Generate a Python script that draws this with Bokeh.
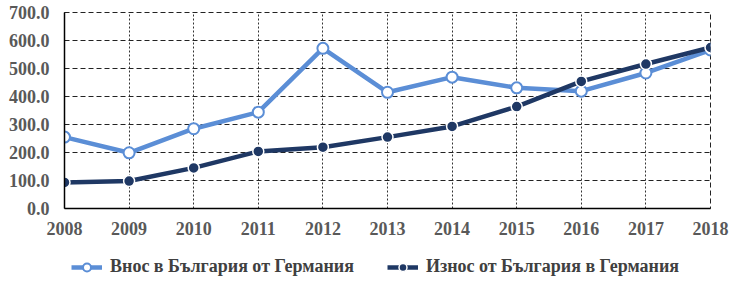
from bokeh.plotting import figure
from bokeh.models import Legend, LegendItem, FixedTicker, NumeralTickFormatter, Range1d
from bokeh.layouts import column
from bokeh.embed import file_html
from bokeh.resources import INLINE

years = [2008, 2009, 2010, 2011, 2012, 2013, 2014, 2015, 2016, 2017, 2018]
imports_from_de = [255, 199, 285, 344, 572, 415, 469, 431, 419, 484, 566]
exports_to_de = [93, 98, 145, 204, 219, 255, 293, 364, 454, 516, 575]
y_ticks = [0, 100, 200, 300, 400, 500, 600, 700]
label_import = "Внос в България от Германия"
label_export = "Износ от България в Германия"

LIGHT = "#5B8ED6"
DARK = "#1F3864"
FONT = "Liberation Serif"

p = figure(width=740, height=240, min_border_left=64, min_border_top=12,
           min_border_right=30, min_border_bottom=32,
           output_backend="svg", toolbar_location=None,
           x_range=Range1d(2008, 2018), y_range=Range1d(0, 700))
p.background_fill_color = "white"
p.border_fill_color = "white"

line_kw1 = dict(line_color=LIGHT, line_width=4.5)
mark_kw1 = dict(size=11, marker="circle", fill_color="white", line_color=LIGHT, line_width=2)
line_kw2 = dict(line_color=DARK, line_width=4.5)
mark_kw2 = dict(size=11, marker="circle", fill_color=DARK, line_color="white", line_width=1.5)

p.line(years, imports_from_de, **line_kw1)
p.scatter(years, imports_from_de, **mark_kw1)
p.line(years, exports_to_de, **line_kw2)
p.scatter(years, exports_to_de, **mark_kw2)

p.xaxis.ticker = FixedTicker(ticks=years)
p.yaxis.ticker = FixedTicker(ticks=y_ticks)
p.yaxis.formatter = NumeralTickFormatter(format="0.0")
for ax in (p.xaxis[0], p.yaxis[0]):
    ax.major_tick_out = 0
    ax.major_tick_in = 0
    ax.minor_tick_out = 0
    ax.minor_tick_in = 0
    ax.axis_line_color = "black"
    ax.axis_line_width = 1.5
    ax.major_label_text_font = FONT
    ax.major_label_text_font_style = "bold"
    ax.major_label_text_font_size = "18px"
    ax.major_label_text_color = "#595959"
p.xaxis.major_label_standoff = 13
p.yaxis.major_label_standoff = 15

p.xgrid.grid_line_color = "#333333"
p.xgrid.grid_line_dash = "2 2"
p.xgrid.grid_line_width = 1
p.ygrid.grid_line_color = "#222222"
p.ygrid.grid_line_dash = "5 3"
p.ygrid.grid_line_width = 1
p.outline_line_color = "#222222"
p.outline_line_dash = "5 3"
p.outline_line_width = 1

# legend strip (its frame is aligned with the main plot's frame by the column layout)
lf = figure(width=740, height=47, min_border=0, output_backend="svg",
            toolbar_location=None, x_range=Range1d(0, 1), y_range=Range1d(0, 1))
lf.axis.visible = False
lf.grid.visible = False
lf.outline_line_color = None
lf.background_fill_color = "white"
lf.border_fill_color = "white"
d1 = lf.line([-5, -4], [-5, -4], **line_kw1)
e1 = lf.scatter([-5], [-5], **mark_kw1)
d2 = lf.line([-5, -4], [-5, -4], **line_kw2)
e2 = lf.scatter([-5], [-5], **mark_kw2)

legend = Legend(items=[LegendItem(label=label_import, renderers=[d1, e1]),
                       LegendItem(label=label_export, renderers=[d2, e2])],
                orientation="horizontal", location=(7, 10),
                label_text_font=FONT, label_text_font_style="bold",
                label_text_font_size="18px", label_text_color="#404040",
                glyph_width=31, glyph_height=20, label_height=20,
                spacing=33, border_line_color=None,
                background_fill_alpha=0, padding=0, margin=0, label_standoff=8)
lf.add_layout(legend, "center")

layout = column(p, lf, spacing=0)
open("out.html", "w").write(file_html(layout, INLINE))
